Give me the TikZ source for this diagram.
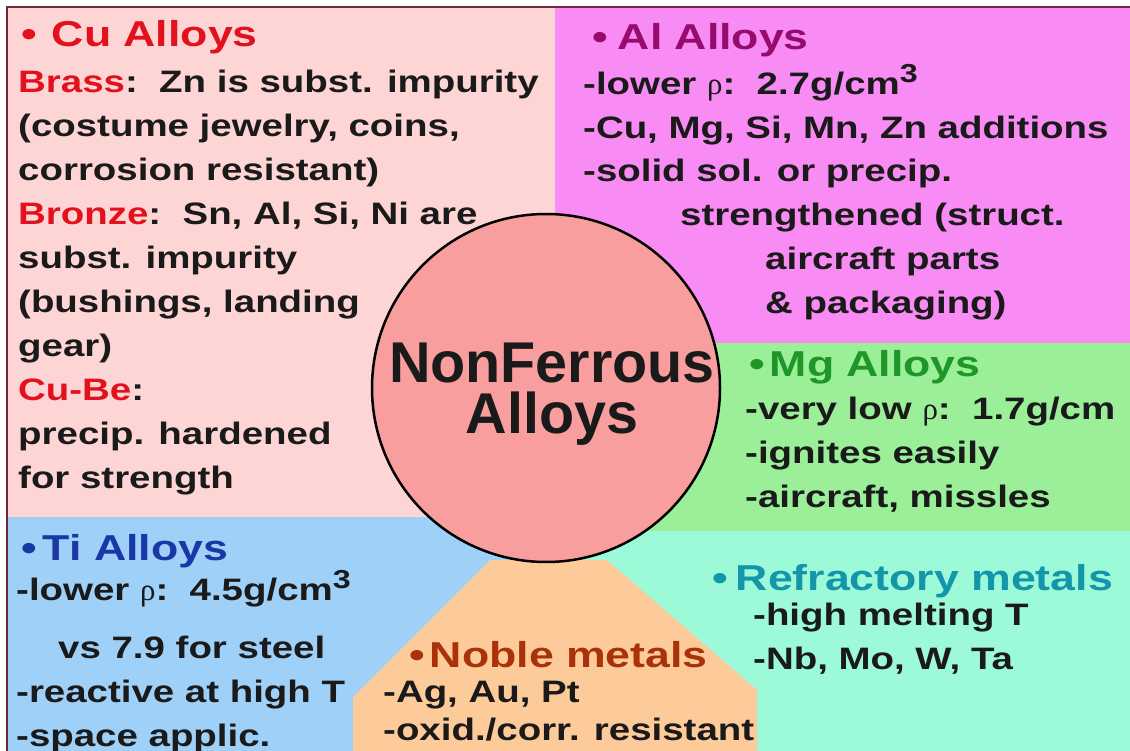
\documentclass[tikz,border=0pt]{standalone}
\usepackage{fontspec}
\usepackage{xcolor}
\usepackage{tikz}
\usetikzlibrary{shapes.geometric, positioning}

\newfontfamily\slidefont{Liberation Sans}[FakeStretch=1.24]
\newfontfamily\hubfont{Liberation Sans}
\newfontfamily\rhofont{Liberation Serif}

\definecolor{cubg}{HTML}{FDD5D5}
\definecolor{albg}{HTML}{F98BF4}
\definecolor{mgbg}{HTML}{9AEF98}
\definecolor{tibg}{HTML}{9ED0F8}
\definecolor{rfbg}{HTML}{9CFAD8}
\definecolor{nbbg}{HTML}{FDCB99}
\definecolor{hubfill}{HTML}{F99E9E}
\definecolor{edge}{HTML}{6B2A3A}
\definecolor{ink}{HTML}{1A1A1A}
\definecolor{cured}{HTML}{E3101E}
\definecolor{alpurple}{HTML}{960C6E}
\definecolor{mggreen}{HTML}{1E9628}
\definecolor{tiblue}{HTML}{1937A5}
\definecolor{nbbrown}{HTML}{AA320A}
\definecolor{rfteal}{HTML}{1496AA}

\newcommand{\cubed}{\raisebox{0.38em}{\fontsize{26}{26}\selectfont 3}}
\newcommand{\rhosym}{{\rhofont\mdseries ρ}}

\begin{document}
\begin{tikzpicture}[x=1pt, y=-1pt,
    title/.style={anchor=base west, inner sep=0pt, font=\slidefont\bfseries\fontsize{36}{40}\selectfont},
    body/.style={anchor=base west, inner sep=0pt, align=left, text=ink, font=\slidefont\bfseries\fontsize{31}{44}\selectfont},
    hub/.style={circle, draw=black, line width=2.5pt, fill=hubfill, minimum size=348pt, inner sep=0pt},
    hubtext/.style={anchor=base, inner sep=0pt, align=center, text=ink, font=\hubfont\bfseries\fontsize{57.5}{51}\selectfont},
]
    \useasboundingbox (0,0) rectangle (1130,751);
    \fill[white] (0,0) rectangle (1130,751);

    % Panels
    \fill[cubg] (7,7) rectangle (555,517);
    \fill[albg] (555,7) rectangle (1130,343);
    \fill[mgbg] (600,343) rectangle (1130,531);
    \fill[tibg] (7,517) rectangle (555,751);
    \fill[rfbg] (555,531) rectangle (1130,751);
    \fill[nbbg] (490,560) -- (607,560) -- (757,690) -- (757,751) -- (353,751) -- (353,697) -- cycle;
    \draw[edge, line width=1.5pt] (7,751) -- (7,7) -- (1130,7);

    % Centre (base of a multi-line node = its last line)
    \node[hub] at (546,388) (hub) {};
    \node[hubtext] at (552,433) (hubtext) {NonFerrous\\Alloys};

    % Cu alloys
    \node[title, text=cured] at (21,47) (cutitle) {•\hspace{15pt}Cu Alloys};
    \node[body] at (18,488) (cubody) {\textcolor{cured}{Brass}:\ \ Zn is subst. impurity\\
        (costume jewelry, coins,\\
        corrosion resistant)\\
        \textcolor{cured}{Bronze}:\ \ Sn, Al, Si, Ni are\\
        subst. impurity\\
        (bushings, landing\\
        gear)\\
        \textcolor{cured}{Cu-Be}:\\
        precip. hardened\\
        for strength};

    % Al alloys
    \node[title, text=alpurple] at (592,50) (altitle) {•\hspace{10pt}Al Alloys};
    \node[body] at (583,314) (albody) {-lower \rhosym:\ \ 2.7g/cm\cubed\\
        -Cu, Mg, Si, Mn, Zn additions\\
        -solid sol. or precip.\\
        \hspace*{97pt}strengthened (struct.\\
        \hspace*{182pt}aircraft parts\\
        \hspace*{182pt}\& packaging)};

    % Mg alloys
    \node[title, text=mggreen] at (749,377) (mgtitle) {•\hspace{5pt}Mg Alloys};
    \node[body] at (745,507) (mgbody) {-very low \rhosym:\ \ 1.7g/cm\\
        -ignites easily\\
        -aircraft, missles};

    % Ti alloys
    \node[title, text=tiblue] at (21,560) (tititle) {•\hspace{6pt}Ti Alloys};
    \node[body] at (16,746) (tibody) {-lower \rhosym:\ \ 4.5g/cm\cubed\\[14pt]
        \hspace*{42pt}vs 7.9 for steel\\
        -reactive at high T\\
        -space applic.};

    % Noble metals
    \node[title, text=nbbrown] at (409,667) (nbtitle) {•\hspace{5pt}Noble metals};
    \node[body] at (383,740) (nbbody) {-Ag, Au, Pt\\[-6pt]
        -oxid./corr. resistant};

    % Refractory metals
    \node[title, text=rfteal] at (712,590) (rftitle) {•\hspace{8pt}Refractory metals};
    \node[body] at (753,669) (rfbody) {-high melting T\\
        -Nb, Mo, W, Ta};

\end{tikzpicture}
\end{document}
